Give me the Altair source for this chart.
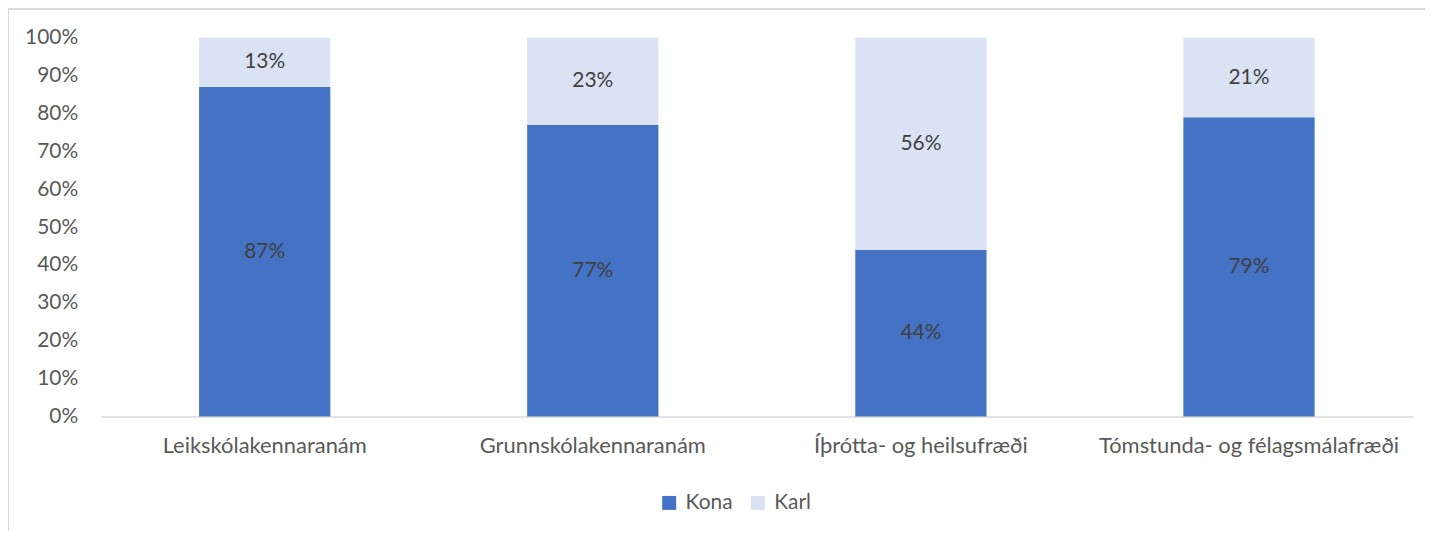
import altair as alt
import pandas as pd

categories = ["Leikskólakennaranám", "Grunnskólakennaranám", "Íþrótta- og heilsufræði", "Tómstunda- og félagsmálafræði"]
kona = [0.87, 0.77, 0.44, 0.79]
karl = [0.13, 0.23, 0.56, 0.21]
series = ["Kona", "Karl"]
colors = ["#4472C4", "#DAE3F3"]
yticks = [0, 0.1, 0.2, 0.3, 0.4, 0.5, 0.6, 0.7, 0.8, 0.9, 1.0]

rows = []
for i, c in enumerate(categories):
    rows.append({"cat": c, "kyn": "Kona", "val": kona[i], "ord": 0})
    rows.append({"cat": c, "kyn": "Karl", "val": karl[i], "ord": 1})
df = pd.DataFrame(rows)

FONT = "Lato"

xscale = alt.Scale(paddingInner=0.6, paddingOuter=0.3)
yscale = alt.Scale(domain=[0, 1], nice=False)
xaxis = alt.Axis(labelAngle=0, labelFontSize=22, labelColor="#595959", labelFont=FONT,
                 labelLimit=0, ticks=False, domainColor="#D9D9D9", domainWidth=1.5,
                 labelPadding=19, grid=False)
yaxis = alt.Axis(format="%", values=yticks, labelFontSize=21,
                 labelColor="#595959", labelFont=FONT, ticks=False, domain=False,
                 grid=False, labelPadding=23, labelOverlap=False)

bars = alt.Chart(df).mark_bar().encode(
    x=alt.X("cat:N", sort=categories, title=None, scale=xscale, axis=xaxis),
    y=alt.Y("val:Q", stack="zero", title=None, scale=yscale, axis=yaxis),
    color=alt.Color("kyn:N", scale=alt.Scale(domain=series, range=colors), sort=series,
                    legend=alt.Legend(title=None, orient="none", legendX=560, legendY=456,
                                      direction="horizontal", symbolType="square", symbolSize=196,
                                      symbolStrokeWidth=0, labelFontSize=21, labelFont=FONT,
                                      labelColor="#595959", labelOffset=6, columnPadding=14,
                                      padding=0)),
    order=alt.Order("ord:Q"),
)

labels = alt.Chart(df).transform_stack(
    stack="val", groupby=["cat"], as_=["y0", "y1"], sort=[alt.SortField("ord")]
).transform_calculate(
    mid="(datum.y0 + datum.y1) / 2"
).mark_text(fontSize=21, font=FONT, color="#404040").encode(
    x=alt.X("cat:N", sort=categories, title=None, scale=xscale, axis=xaxis),
    y=alt.Y("mid:Q", title=None, scale=yscale, axis=yaxis),
    text=alt.Text("val:Q", format=".0%"),
)

frame_top = alt.Chart(df).mark_rule(color="#D9D9D9", strokeWidth=1.5).encode(
    x=alt.value(-93), x2=alt.value(1500), y=alt.value(-29))
frame_left = alt.Chart(df).mark_rule(color="#D9D9D9", strokeWidth=1.5).encode(
    x=alt.value(-93), y=alt.value(-29), y2=alt.value(700))

chart = alt.layer(bars, labels, frame_top, frame_left).properties(
    width=1317, height=380,
    autosize=alt.AutoSizeParams(type="none"),
    padding={"left": 93, "top": 29, "right": 12, "bottom": 114},
).configure(font=FONT).configure_view(strokeWidth=0, stroke="transparent")

chart.save("out.html", embed_options={"renderer": "svg", "actions": False})
